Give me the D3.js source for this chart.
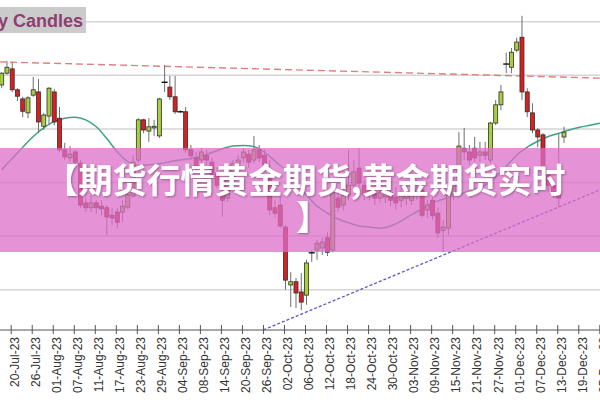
<!DOCTYPE html>
<html><head><meta charset="utf-8">
<script src="https://cdn.jsdelivr.net/npm/d3@7"></script>
<style>html,body{margin:0;padding:0;background:#fff;overflow:hidden}svg{display:block}</style>
</head><body><svg id="chart" width="600" height="400"></svg>
<script>
// ---- categories (trading days) ----
const dates = [
"18-Jul-23","19-Jul-23","20-Jul-23","21-Jul-23","24-Jul-23","25-Jul-23","26-Jul-23","27-Jul-23","28-Jul-23","31-Jul-23",
"01-Aug-23","02-Aug-23","03-Aug-23","04-Aug-23","07-Aug-23","08-Aug-23","09-Aug-23","10-Aug-23","11-Aug-23","14-Aug-23",
"15-Aug-23","16-Aug-23","17-Aug-23","18-Aug-23","21-Aug-23","22-Aug-23","23-Aug-23","24-Aug-23","25-Aug-23","28-Aug-23",
"29-Aug-23","30-Aug-23","31-Aug-23","01-Sep-23","04-Sep-23","05-Sep-23","06-Sep-23","07-Sep-23","08-Sep-23","11-Sep-23",
"12-Sep-23","13-Sep-23","14-Sep-23","15-Sep-23","18-Sep-23","19-Sep-23","20-Sep-23","21-Sep-23","22-Sep-23","25-Sep-23",
"26-Sep-23","27-Sep-23","28-Sep-23","29-Sep-23","02-Oct-23","03-Oct-23","04-Oct-23","05-Oct-23","06-Oct-23","09-Oct-23",
"10-Oct-23","11-Oct-23","12-Oct-23","13-Oct-23","16-Oct-23","17-Oct-23","18-Oct-23","19-Oct-23","20-Oct-23","23-Oct-23",
"24-Oct-23","25-Oct-23","26-Oct-23","27-Oct-23","30-Oct-23","31-Oct-23","01-Nov-23","02-Nov-23","03-Nov-23","06-Nov-23",
"07-Nov-23","08-Nov-23","09-Nov-23","10-Nov-23","13-Nov-23","14-Nov-23","15-Nov-23","16-Nov-23","17-Nov-23","20-Nov-23",
"21-Nov-23","22-Nov-23","23-Nov-23","24-Nov-23","27-Nov-23","28-Nov-23","29-Nov-23","30-Nov-23","01-Dec-23","04-Dec-23",
"05-Dec-23","06-Dec-23","07-Dec-23","08-Dec-23","11-Dec-23","12-Dec-23","13-Dec-23","14-Dec-23","15-Dec-23","18-Dec-23",
"19-Dec-23","20-Dec-23","21-Dec-23","22-Dec-23","25-Dec-23"];

// ---- OHLC series (first 108 trading days) ----
const openP = [
24.82,25.04,25.12,24.73,24.56,24.30,24.63,24.69,24.05,24.24,
24.69,24.20,23.61,23.46,23.57,23.36,22.62,22.53,22.62,22.56,
22.53,22.39,22.45,22.45,22.54,22.75,23.42,24.17,23.96,24.02,
23.87,24.87,24.78,24.60,24.32,24.32,23.61,23.46,23.42,23.51,
23.38,23.18,22.77,22.71,23.05,23.36,23.46,23.53,23.42,23.61,
23.51,23.14,22.53,22.58,22.17,21.09,21.15,20.96,20.90,21.69,
21.74,21.78,21.97,21.74,22.71,22.58,22.77,22.95,23.27,22.95,
22.86,22.81,22.71,22.73,22.82,22.73,22.67,22.71,22.67,22.77,
22.86,22.49,22.67,22.43,22.11,22.15,22.77,22.99,23.64,23.57,
23.64,23.51,23.57,23.42,24.11,24.45,25.21,25.15,25.47,25.71,
24.69,24.30,23.98,23.89,23.14,22.95,22.77,23.85];
const highP = [
25.06,25.27,25.25,24.76,24.60,24.61,24.97,24.93,24.30,24.78,
24.74,24.41,23.74,23.68,23.61,23.42,22.71,22.77,22.67,22.67,
22.58,22.53,22.53,22.67,22.90,23.51,24.20,24.19,24.20,24.17,
24.58,25.19,24.99,24.99,24.35,24.41,23.70,23.57,23.64,23.61,
23.46,23.29,22.99,23.12,23.42,23.51,23.64,23.61,23.87,23.70,
23.61,23.42,22.67,22.77,22.21,21.33,21.22,21.31,21.56,21.74,
21.93,21.97,22.08,22.90,22.82,22.90,23.61,23.42,23.64,23.05,
22.99,22.95,22.92,22.95,22.99,22.92,22.95,22.95,23.05,23.05,
22.95,22.67,22.73,22.53,22.30,22.90,23.05,23.94,24.02,23.70,
23.85,23.76,23.76,24.13,24.54,24.82,25.42,25.51,25.70,26.11,
24.76,24.48,24.02,23.92,23.23,23.05,23.92,24.04];
const lowP = [
24.76,25.01,24.69,24.52,24.22,24.20,24.60,23.94,23.98,24.07,
24.07,23.57,23.42,23.38,23.31,22.53,22.45,22.45,22.41,22.39,
22.02,22.21,22.15,22.26,22.49,22.71,23.36,23.92,23.76,23.87,
23.83,24.69,24.54,24.28,24.30,23.55,23.42,23.23,23.33,23.33,
23.05,22.90,22.36,22.64,22.97,23.27,23.38,23.27,23.36,23.38,
23.23,22.39,22.34,22.15,21.00,20.68,20.66,20.62,20.72,21.52,
21.56,21.65,21.63,21.70,22.45,22.49,22.67,22.86,22.90,22.67,
22.67,22.58,22.62,22.62,22.56,22.49,22.54,22.58,22.58,22.67,
22.34,22.34,22.30,21.97,21.70,22.02,22.67,22.94,23.42,23.33,
23.38,23.38,23.42,23.36,24.07,24.35,25.04,25.04,25.43,24.54,
24.22,23.92,23.66,23.05,22.82,22.71,22.54,23.74];
const closeP = [
25.04,25.15,24.73,24.61,24.33,24.58,24.73,24.13,24.26,24.76,
24.13,23.61,23.48,23.53,23.38,22.58,22.53,22.62,22.53,22.51,
22.36,22.34,22.26,22.56,22.77,23.38,24.17,23.98,24.04,24.05,
24.56,24.89,24.60,24.32,24.31,23.61,23.50,23.31,23.57,23.42,
23.14,22.95,22.67,23.05,23.36,23.42,23.57,23.38,23.61,23.46,
23.33,22.49,22.43,22.19,21.18,21.15,20.94,20.77,21.50,21.67,
21.87,21.89,21.70,22.82,22.54,22.77,22.95,23.20,22.99,22.77,
22.77,22.71,22.81,22.77,22.67,22.62,22.81,22.77,22.81,22.86,
22.39,22.58,22.38,22.06,22.17,22.82,22.99,23.68,23.57,23.42,
23.46,23.57,23.51,24.11,24.45,24.69,25.23,25.43,25.62,24.69,
24.32,23.98,23.85,23.14,22.95,22.82,22.71,23.94];

// ---- moving average ----
const maDates = ["18-Jul-23","20-Jul-23","24-Jul-23","26-Jul-23","28-Jul-23","01-Aug-23","03-Aug-23","07-Aug-23","09-Aug-23","11-Aug-23",
"15-Aug-23","17-Aug-23","21-Aug-23","23-Aug-23","25-Aug-23","29-Aug-23","31-Aug-23","04-Sep-23","06-Sep-23","08-Sep-23",
"12-Sep-23","14-Sep-23","18-Sep-23","20-Sep-23","22-Sep-23","26-Sep-23","28-Sep-23","02-Oct-23","04-Oct-23","06-Oct-23",
"10-Oct-23","12-Oct-23","16-Oct-23","18-Oct-23","20-Oct-23","24-Oct-23","26-Oct-23","30-Oct-23","01-Nov-23","03-Nov-23",
"07-Nov-23","09-Nov-23","13-Nov-23","15-Nov-23","17-Nov-23","21-Nov-23","23-Nov-23","27-Nov-23","29-Nov-23","01-Dec-23",
"05-Dec-23","07-Dec-23","11-Dec-23","13-Dec-23","15-Dec-23","19-Dec-23","21-Dec-23","25-Dec-23"];
const maValues = [23.24,23.45,23.66,23.86,24.02,24.14,24.20,24.22,24.17,24.04,
23.82,23.57,23.39,23.32,23.33,23.35,23.39,23.42,23.45,23.49,
23.56,23.63,23.68,23.69,23.67,23.57,23.40,23.23,22.97,22.76,
22.56,22.43,22.32,22.25,22.19,22.17,22.15,22.19,22.28,22.40,
22.51,22.62,22.69,22.75,22.81,22.88,22.95,23.10,23.30,23.51,
23.66,23.77,23.86,23.92,23.98,24.03,24.07,24.11];

// ---- annotation lines (two anchors each) ----
const resistDates = ["18-Jul-23","22-Dec-23"];
const resistValues = [25.25, 24.95];
const supportDates = ["26-Sep-23","22-Dec-23"];
const supportValues = [20.26, 22.83];

// ---- axis tick labels ----
const tickLabels = ["20-Jul-23","26-Jul-23","01-Aug-23","07-Aug-23","11-Aug-23","17-Aug-23","23-Aug-23","29-Aug-23",
"04-Sep-23","08-Sep-23","14-Sep-23","20-Sep-23","26-Sep-23","02-Oct-23","06-Oct-23","12-Oct-23","18-Oct-23",
"24-Oct-23","30-Oct-23","03-Nov-23","09-Nov-23","15-Nov-23","21-Nov-23","27-Nov-23","01-Dec-23","07-Dec-23",
"13-Dec-23","19-Dec-23","25-Dec-23"];

const titleText = "Daily Candles";
const bannerLine1 = "【期货行情黄金期货,黄金期货实时";
const bannerLine2 = "】";

// ---------------------------------------------------
const svg = d3.select("#chart");
const x = d3.scalePoint().domain(dates).range([1.7, 600.8]).padding(0);
const y = d3.scaleLinear().domain([20.25, 26.25]).range([330, 8.3]);

const defs = svg.append("defs");
const f = defs.append("filter").attr("id","shadow").attr("x","-10%").attr("y","-20%").attr("width","120%").attr("height","140%");
f.append("feDropShadow").attr("dx",1).attr("dy",1).attr("stdDeviation",1.2).attr("flood-color","#000").attr("flood-opacity",0.35);

// gridlines
const gridVals = y.ticks(30).filter(v => v > 20.3 && Math.abs((v*4) - Math.round(v*4)) < 1e-6);
svg.append("g").selectAll("line").data(gridVals).join("line")
  .attr("x1",0).attr("x2",600)
  .attr("y1",d=>y(d)).attr("y2",d=>y(d))
  .attr("stroke","#d5d5d5").attr("stroke-width",1.6);

// helper for straight annotation lines extended across the chart
const idx = d => dates.indexOf(d);
function extendLine(ds, vs, i0, i1){
  const a = idx(ds[0]), b = idx(ds[1]);
  const lin = d3.scaleLinear().domain([a,b]).range(vs);
  const step = x.step();
  const px = i => x(dates[0]) + i*step;
  return [[px(i0), y(lin(i0))],[px(i1), y(lin(i1))]];
}
svg.append("path").attr("d", d3.line()(extendLine(resistDates, resistValues, -0.5, 114.5)))
  .attr("stroke","#d96a6a").attr("stroke-width",1.4).attr("stroke-dasharray","7,4").attr("fill","none").attr("opacity",0.85);

svg.append("path").attr("d", d3.line()(extendLine(supportDates, supportValues, 49.8, 114.5)))
  .attr("stroke","#5b55c8").attr("stroke-width",1.3).attr("stroke-dasharray","3,2").attr("fill","none");

// moving average
svg.append("path")
  .datum(maDates.map((d,i)=>[x(d), y(maValues[i])]))
  .attr("d", d3.line().curve(d3.curveMonotoneX))
  .attr("fill","none").attr("stroke","#3aa383").attr("stroke-width",1.5);

// candles
const candles = closeP.map((c,i)=>({d:dates[i], o:openP[i], h:highP[i], l:lowP[i], c}));
const cg = svg.append("g");
cg.selectAll("line.wick").data(candles).join("line").attr("class","wick")
  .attr("x1",d=>x(d.d)).attr("x2",d=>x(d.d))
  .attr("y1",d=>y(d.h)).attr("y2",d=>y(d.l))
  .attr("stroke","#6e6e6e").attr("stroke-width",1);
const bw = 4;
const isDoji = d => Math.abs(d.o - d.c) < 0.025;
cg.selectAll("rect.body").data(candles.filter(d=>!isDoji(d))).join("rect").attr("class","body")
  .attr("x",d=>x(d.d)-bw/2).attr("width",bw)
  .attr("y",d=>y(Math.max(d.o,d.c))).attr("height",d=>Math.max(1, Math.abs(y(d.o)-y(d.c))))
  .attr("fill",d=>d.c>=d.o ? "#a8cf3c" : "#d91f1f")
  .attr("stroke","#2e2e2e").attr("stroke-width",0.8);
cg.selectAll("line.doji").data(candles.filter(isDoji)).join("line").attr("class","doji")
  .attr("x1",d=>x(d.d)-3).attr("x2",d=>x(d.d)+3)
  .attr("y1",d=>y(d.o)).attr("y2",d=>y(d.o))
  .attr("stroke","#111").attr("stroke-width",1.4);

// title box
svg.append("rect").attr("x",0).attr("y",7).attr("width",86).attr("height",26).attr("fill","#cbcbcb");
svg.append("text").attr("x",83).attr("y",27).attr("text-anchor","end")
  .attr("font-family","'Liberation Sans', Arial, sans-serif").attr("font-weight","bold").attr("font-size",18)
  .attr("fill","#8c3f70").text(titleText);

// axis
const ax = svg.append("g").attr("transform","translate(-1.5,330)")
  .call(d3.axisBottom(x).tickValues(tickLabels).tickSizeOuter(0).tickSizeInner(4));
ax.select(".domain").remove();
ax.selectAll(".tick line").attr("y1",-5).attr("y2",4).attr("stroke","#555");
ax.selectAll(".tick text").attr("transform","rotate(-90)").attr("text-anchor","end")
  .attr("x",-7).attr("y",7.8).attr("dy",0)
  .attr("font-family","'Liberation Sans', Arial, sans-serif").attr("font-size",12).attr("fill","#333");
svg.append("line").attr("x1",0).attr("x2",600).attr("y1",330).attr("y2",330).attr("stroke","#555").attr("stroke-width",1);

// banner overlay
svg.append("rect").attr("x",0).attr("y",148).attr("width",600).attr("height",104)
  .attr("fill","rgb(220,110,200)").attr("fill-opacity",0.75);
const tg = svg.append("g").attr("filter","url(#shadow)")
  .attr("font-family","'Noto Sans CJK SC','Noto Sans CJK JP',sans-serif").attr("font-weight","bold")
  .attr("font-size",34).attr("fill","#fff");
tg.append("text").attr("x",305).attr("y",193).attr("text-anchor","middle").text(bannerLine1);
tg.append("text").attr("x",296).attr("y",230).attr("text-anchor","start").text(bannerLine2);
</script></body></html>
